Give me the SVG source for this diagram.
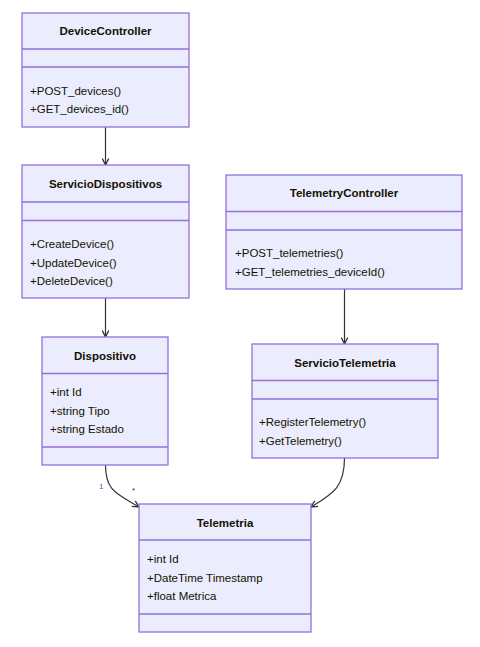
<svg xmlns="http://www.w3.org/2000/svg" width="480" height="647" viewBox="0 0 480 647">
<style>
.box{fill:#ECECFF;stroke:#9370DB;stroke-width:1.3}
.div{stroke:#9370DB;stroke-width:1.3}
text{font-family:"Liberation Sans",Arial,sans-serif;font-size:11.5px;fill:#131300;dominant-baseline:central}
.t{font-weight:bold;text-anchor:middle}
.edge{fill:none;stroke:#333;stroke-width:1.2}
.lbl{font-size:8px;fill:#333}
</style>
<defs>
<marker id="arr" viewBox="0 0 10 10" refX="9" refY="5" markerWidth="8" markerHeight="8" orient="auto" markerUnits="userSpaceOnUse">
<path d="M1,1 L9,5 L1,9" fill="none" stroke="#333" stroke-width="1.6"/>
</marker>
</defs>
<rect width="480" height="647" fill="#fff"/>
<g id="connectors">
<path class="edge" d="M105.5,127 L105.5,165" marker-end="url(#arr)"/>
<path class="edge" d="M105.5,298 L105.5,337" marker-end="url(#arr)"/>
<path class="edge" d="M344.5,289 L344.5,344" marker-end="url(#arr)"/>
<path class="edge" d="M105.5,465 C105.5,492 118,494 139,507" marker-end="url(#arr)"/>
<path class="edge" d="M344.5,458 C344.5,488 332,494 311,507" marker-end="url(#arr)"/>
<text class="lbl" x="99" y="486" style="fill:#2a6fb0">1</text>
<text class="lbl" x="132" y="490">*</text>
</g>
<g id="DeviceController">
<rect class="box" x="22" y="13" width="167" height="114"/>
<line class="div" x1="22" y1="49" x2="189" y2="49"/>
<line class="div" x1="22" y1="67" x2="189" y2="67"/>
<text class="t" x="105.5" y="31">DeviceController</text>
<text x="30" y="90.5">+POST_devices()</text>
<text x="30" y="109">+GET_devices_id()</text>
</g>
<g id="ServicioDispositivos">
<rect class="box" x="22" y="165" width="167" height="133"/>
<line class="div" x1="22" y1="202" x2="189" y2="202"/>
<line class="div" x1="22" y1="220.5" x2="189" y2="220.5"/>
<text class="t" x="105.5" y="184">ServicioDispositivos</text>
<text x="30" y="244">+CreateDevice()</text>
<text x="30" y="262.5">+UpdateDevice()</text>
<text x="30" y="281">+DeleteDevice()</text>
</g>
<g id="TelemetryController">
<rect class="box" x="226" y="175" width="236" height="114"/>
<line class="div" x1="226" y1="211.5" x2="462" y2="211.5"/>
<line class="div" x1="226" y1="230" x2="462" y2="230"/>
<text class="t" x="344" y="193">TelemetryController</text>
<text x="235" y="253">+POST_telemetries()</text>
<text x="235" y="271.5">+GET_telemetries_deviceId()</text>
</g>
<g id="Dispositivo">
<rect class="box" x="42" y="337" width="126" height="128"/>
<line class="div" x1="42" y1="373.5" x2="168" y2="373.5"/>
<line class="div" x1="42" y1="447" x2="168" y2="447"/>
<text class="t" x="105" y="355.5">Dispositivo</text>
<text x="50" y="392">+int Id</text>
<text x="50" y="410.5">+string Tipo</text>
<text x="50" y="429">+string Estado</text>
</g>
<g id="ServicioTelemetria">
<rect class="box" x="252" y="344" width="186" height="114"/>
<line class="div" x1="252" y1="380.5" x2="438" y2="380.5"/>
<line class="div" x1="252" y1="399" x2="438" y2="399"/>
<text class="t" x="345" y="363">ServicioTelemetria</text>
<text x="259" y="422">+RegisterTelemetry()</text>
<text x="259" y="440.5">+GetTelemetry()</text>
</g>
<g id="Telemetria">
<rect class="box" x="139" y="504" width="172" height="128"/>
<line class="div" x1="139" y1="540" x2="311" y2="540"/>
<line class="div" x1="139" y1="614" x2="311" y2="614"/>
<text class="t" x="225" y="522.5">Telemetria</text>
<text x="147" y="559">+int Id</text>
<text x="147" y="577.5">+DateTime Timestamp</text>
<text x="147" y="596">+float Metrica</text>
</g>
</svg>
